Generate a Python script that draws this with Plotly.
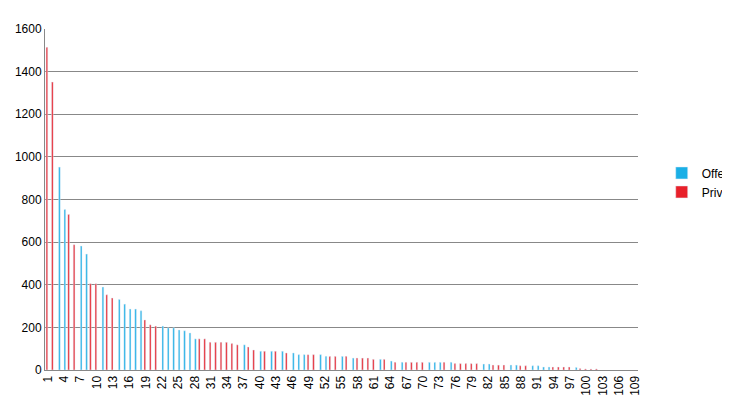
import plotly.graph_objects as go

cats = list(range(1, 110))
types = list("RRBBRRBBRRBRRBBBBBRRRBBBBBBBRRRRRRRRBR"   # 1-38
             "RBRBRBRBBBRRBBRRBRBRRRRBRBRBRRRRBBBRBR"  # 39-76
             "RRRRBBRRRBBRRBBBBRRRRBRRR")              # 77-102 (approx)
vals = [1514, 1351, 952, 753, 730, 588, 582, 544, 405, 405, 389, 353, 338, 331, 309,
        286, 286, 278, 235, 212, 206, 206, 198, 198, 188, 184, 174, 146, 146, 146,
        130, 130, 130, 130, 124, 118, 118, 108,
        94, 88, 88, 88, 88, 88, 80, 80, 72, 72, 72, 72, 72, 64, 64, 64, 64, 64, 56,
        56, 56, 56, 50, 50, 50, 42, 36, 36, 36, 36, 36, 36, 36, 36, 36, 36, 36, 30,
        30, 30, 30, 30, 28, 28, 23, 23, 23, 23, 23, 20, 20, 20, 20, 14, 14, 14, 14,
        14, 14, 12, 7, 5, 5, 5]

n = len(vals)
types = types[:n] + ["R"] * (n - len(types[:n]))
off = [v if t == "B" else None for v, t in zip(vals, types)] + [None] * (109 - n)
pri = [v if t == "R" else None for v, t in zip(vals, types)] + [None] * (109 - n)

fig = go.Figure()
fig.add_bar(x=cats, y=pri, name="Privat", marker_color="#E8202A", offsetgroup="p")
fig.add_bar(x=cats, y=off, name="Offentlig", marker_color="#1AAFE6", offsetgroup="o")

fig.update_layout(
    width=730, height=405, barmode="group", bargap=0.4,
    plot_bgcolor="white", paper_bgcolor="white",
    margin=dict(l=37, r=100, t=21, b=43, autoexpand=False),
    font=dict(family="Liberation Sans, Arial", size=12, color="black"),
    legend=dict(x=1.04, y=0.55, traceorder="reversed", font=dict(size=12),
                itemwidth=30),
    xaxis=dict(range=[0.5, 109.5], tickvals=list(range(1, 110, 3)), tickangle=-90,
               showgrid=False, showline=True, linecolor="#888", ticks="",
               automargin=False),
    yaxis=dict(range=[0, 1600], dtick=200, showgrid=True, gridcolor="#888",
               showline=True, linecolor="#888", zeroline=False, ticks="",
               automargin=False),
)
fig.write_html("out.html")
